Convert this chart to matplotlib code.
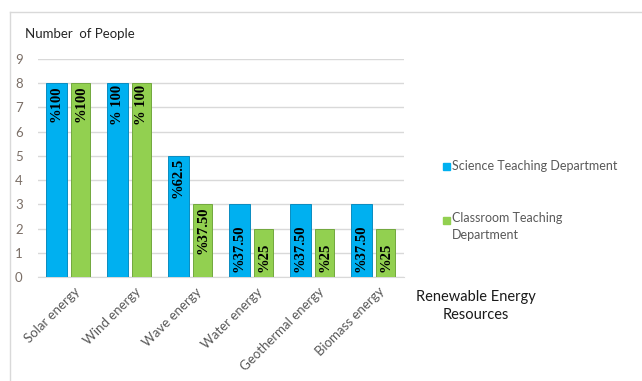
import numpy as np
import matplotlib
matplotlib.use("Agg")
import matplotlib.pyplot as plt
from matplotlib.lines import Line2D
from matplotlib.patches import Rectangle

# data
categories = ["Solar energy", "Wind energy", "Wave energy",
              "Water energy", "Geothermal energy", "Biomass energy"]
science = [8, 8, 5, 3, 3, 3]
classroom = [8, 8, 3, 2, 2, 2]
science_labels = ["%100", "% 100", "%62.5", "%37.50", "%37.50", "%37.50"]
classroom_labels = ["%100", "% 100", "%37.50", "%25", "%25", "%25"]
series_names = ["Science Teaching Department", "Classroom Teaching\nDepartment"]

blue = "#00b0f0"
green = "#92d050"
grey_txt = "#595959"

plt.rcParams['font.family'] = ['Lato', 'DejaVu Sans']

fig = plt.figure(figsize=(6.42, 3.81), dpi=100)
ax = fig.add_axes([38/642, 1 - 277/381, 366/642, 218/381])

x = np.arange(len(categories))
b1 = ax.bar(x - 0.2, science, 0.35, color=blue, edgecolor="#0a8cc0", linewidth=0.7, zorder=3)
b2 = ax.bar(x + 0.2, classroom, 0.31, color=green, edgecolor="#72a83e", linewidth=0.7, zorder=3)

# percentage labels inside the bars, rotated
def put_labels(bars, vals, labels, top_min):
    for bar, v, lab in zip(bars, vals, labels):
        cx = bar.get_x() + bar.get_width() / 2
        if v >= top_min:
            ax.text(cx, v - 0.08, lab, rotation=90, ha='center', va='top',
                    family='Liberation Serif', fontweight='bold', fontsize=10.5, zorder=4)
        else:
            ax.text(cx, 0.2, lab, rotation=90, ha='center', va='bottom',
                    family='Liberation Serif', fontweight='bold', fontsize=10.5, zorder=4)

put_labels(b1, science, science_labels, 4)
put_labels(b2, classroom, classroom_labels, 3)

ax.set_ylim(0, 9)
ax.set_xlim(-0.5, len(categories) - 0.5)
ax.set_yticks(range(10))
ax.yaxis.grid(True, color="#d9d9d9", linewidth=1, zorder=0)
ax.set_axisbelow(True)
for s in ["top", "right", "left"]:
    ax.spines[s].set_visible(False)
ax.spines["bottom"].set_color("#d9d9d9")
ax.tick_params(axis='y', length=0, labelsize=9.5, labelcolor="#7a6e66", pad=11)
ax.tick_params(axis='x', length=0, labelsize=9.5, labelcolor=grey_txt, pad=6)
ax.set_xticks(x + 0.08)
ax.set_xticklabels(categories, rotation=45, ha='right', rotation_mode='anchor')

fig.text(25/642, 1 - 34/381, "Number  of People", fontsize=9.5, color="#262626",
         ha='left', va='center')
fig.text(476/642, 1 - 306/381, "Renewable Energy\nResources", fontsize=10.5,
         color="#1a1a1a", ha='center', va='center', linespacing=1.4)

# legend drawn by hand
for yy, col in [(166, blue), (220, green)]:
    fig.add_artist(Rectangle((443/642, 1 - (yy + 4)/381), 7/642, 7/381,
                             transform=fig.transFigure, color=col))
for yy, name in [(166, series_names[0]), (212, series_names[1])]:
    fig.text(452/642, 1 - yy/381, name, fontsize=9, color=grey_txt,
             ha='left', va='top' if '\n' in name else 'center', linespacing=1.5)

# outer frame lines
fig.add_artist(Line2D([10/642, 10/642], [0, 1 - 12/381], transform=fig.transFigure,
                      color="#d9d9d9", linewidth=1))
fig.add_artist(Line2D([10/642, 1], [1 - 12/381, 1 - 12/381], transform=fig.transFigure,
                      color="#d9d9d9", linewidth=1))

fig.savefig("out.png", dpi=100)
